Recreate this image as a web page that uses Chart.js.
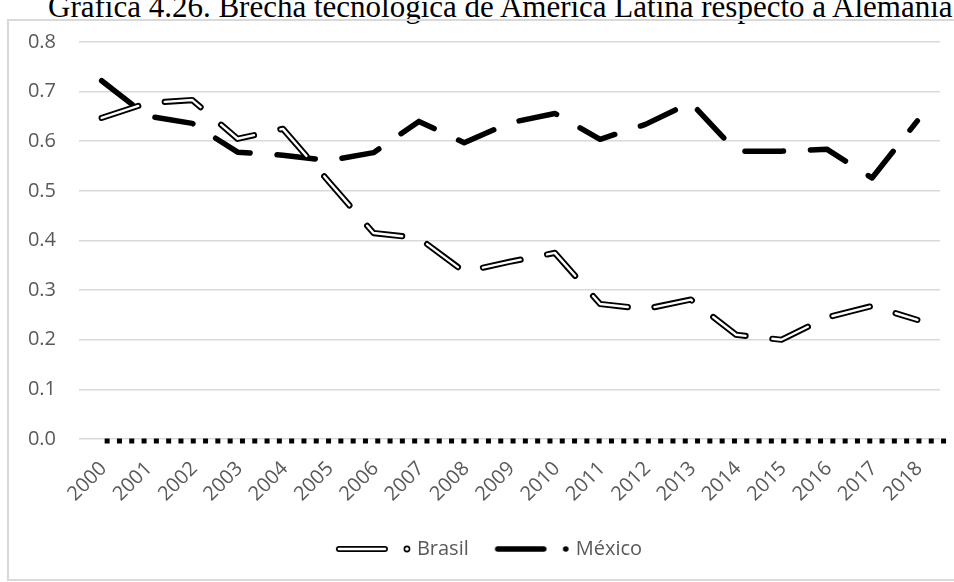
<!DOCTYPE html>
<html>
<head>
<meta charset="utf-8">
<script src="https://cdn.jsdelivr.net/npm/chart.js@4.4.1/dist/chart.umd.min.js"></script>
<style>
  html, body { margin: 0; padding: 0; background: #fff; width: 954px; height: 582px; overflow: hidden; }
  #title {
    position: absolute; left: 48px; top: -9px;
    font-family: "Liberation Serif", "Times New Roman", serif;
    font-size: 31px; line-height: 1; color: #000; white-space: nowrap;
  }
  #frame {
    position: absolute; left: 7px; top: 19px; width: 1000px; height: 562px;
    border: 2px solid #d9d9d9; box-sizing: border-box;
  }
  #wrap { position: absolute; left: 0; top: 0; width: 954px; height: 582px; }
</style>
</head>
<body>
<div id="title">Gráfica 4.26. Brecha tecnológica de América Latina respecto a Alemania</div>
<div id="frame"></div>
<div id="wrap"><canvas id="chart" width="954" height="582"></canvas></div>
<script>
// Years on the horizontal axis
const years = ['2000', '2001', '2002', '2003', '2004', '2005', '2006', '2007', '2008', '2009',
               '2010', '2011', '2012', '2013', '2014', '2015', '2016', '2017', '2018'];

// Technology gap relative to Germany (Germany = 0)
const brasil = [0.647, 0.677, 0.683, 0.605, 0.625, 0.520, 0.415, 0.405, 0.337, 0.357,
                0.375, 0.272, 0.262, 0.281, 0.210, 0.200, 0.245, 0.268, 0.240];
const mexico = [0.722, 0.651, 0.636, 0.578, 0.572, 0.561, 0.577, 0.640, 0.597, 0.637,
                0.656, 0.604, 0.634, 0.678, 0.580, 0.580, 0.584, 0.526, 0.641];
const alemania = [0, 0, 0, 0, 0, 0, 0, 0, 0, 0, 0, 0, 0, 0, 0, 0, 0, 0, 0];

// Y axis tick values
const yTicks = [0, 0.1, 0.2, 0.3, 0.4, 0.5, 0.6, 0.7, 0.8];

const FONT = '"Open Sans", "Noto Sans", sans-serif';
const TEXT = '#595959';
const DASH = [38.5, 27];

// Legend swatches: line sample followed by a small marker
function swatch(kind) {
  const c = document.createElement('canvas');
  c.width = 80; c.height = 14;
  const g = c.getContext('2d');
  g.lineCap = 'round';
  g.beginPath(); g.moveTo(7, 7); g.lineTo(53, 7);
  if (kind === 'double') {
    g.strokeStyle = '#000'; g.lineWidth = 6; g.stroke();
    g.strokeStyle = '#fff'; g.lineWidth = 2.5; g.stroke();
    g.beginPath(); g.arc(75, 7, 2.6, 0, Math.PI * 2);
    g.fillStyle = '#fff'; g.fill();
    g.strokeStyle = '#000'; g.lineWidth = 1.6; g.stroke();
  } else {
    g.strokeStyle = '#000'; g.lineWidth = 5.5; g.stroke();
    g.beginPath(); g.arc(75, 7, 2.8, 0, Math.PI * 2);
    g.fillStyle = '#000'; g.fill();
  }
  return c;
}
const brasilSwatch = swatch('double');
const mexicoSwatch = swatch('solid');

// Dotted baseline for the zero (Germany) series, carried to the right edge
const zeroLine = {
  id: 'zeroLine',
  beforeDatasetsDraw(chart) {
    const meta = chart.getDatasetMeta(3);
    if (!meta.data.length) return;
    const p0 = meta.data[0];
    const ctx = chart.ctx;
    ctx.save();
    ctx.strokeStyle = '#000';
    ctx.lineWidth = 5;
    ctx.lineCap = 'butt';
    ctx.setLineDash([5, 7.3]);
    ctx.beginPath();
    ctx.moveTo(p0.x + 3, p0.y + 2);
    ctx.lineTo(chart.width - 2, p0.y + 2);
    ctx.stroke();
    ctx.restore();
  }
};

// Centre the legend row under the plot area rather than the full canvas
const legendShift = {
  id: 'legendShift',
  afterLayout(chart) {
    if (chart.legend) chart.legend.left = 39;
  }
};

new Chart(document.getElementById('chart'), {
  type: 'line',
  data: {
    labels: years,
    datasets: [
      { // white core of the Brasil double line
        label: 'Brasil', data: brasil, order: 0,
        borderColor: '#fff', borderWidth: 2.4, borderDash: DASH,
        borderCapStyle: 'round', borderJoinStyle: 'round',
        pointRadius: 0, fill: false, tension: 0
      },
      { // black outline of the Brasil double line
        label: 'Brasil', data: brasil, order: 1,
        borderColor: '#000', borderWidth: 6.2, borderDash: DASH,
        borderCapStyle: 'round', borderJoinStyle: 'round',
        pointRadius: 0, fill: false, tension: 0
      },
      {
        label: 'México', data: mexico, order: 2,
        borderColor: '#000', borderWidth: 5.5, borderDash: DASH,
        borderCapStyle: 'round', borderJoinStyle: 'round',
        pointRadius: 0, fill: false, tension: 0
      },
      {
        label: 'Alemania', data: alemania, order: 3,
        showLine: false, pointRadius: 0, borderColor: '#000'
      }
    ]
  },
  options: {
    responsive: false,
    animation: false,
    layout: { padding: { left: 0, right: 14, top: 42, bottom: 13 } },
    plugins: {
      tooltip: { enabled: false },
      title: { display: false },
      legend: {
        display: true,
        position: 'bottom',
        labels: {
          usePointStyle: true,
          pointStyleWidth: 70,
          padding: 27,
          color: TEXT,
          font: { family: FONT, size: 20 },
          generateLabels: () => [
            { text: 'Brasil', pointStyle: brasilSwatch, fontColor: TEXT, lineWidth: 0,
              strokeStyle: 'rgba(0,0,0,0)', fillStyle: 'rgba(0,0,0,0)', hidden: false, datasetIndex: 1 },
            { text: 'México', pointStyle: mexicoSwatch, fontColor: TEXT, lineWidth: 0,
              strokeStyle: 'rgba(0,0,0,0)', fillStyle: 'rgba(0,0,0,0)', hidden: false, datasetIndex: 2 }
          ]
        }
      }
    },
    scales: {
      x: {
        type: 'category',
        offset: true,
        grid: { display: false, drawTicks: false },
        border: { display: false },
        ticks: {
          autoSkip: false, minRotation: 45, maxRotation: 45,
          padding: 18, labelOffset: 2,
          color: TEXT, font: { family: FONT, size: 20 }
        },
        afterFit(scale) { scale.height = 73; }
      },
      y: {
        min: 0, max: 0.8,
        afterBuildTicks(scale) { scale.ticks = yTicks.map(v => ({ value: v })); },
        grid: { color: '#d9d9d9', lineWidth: 1.6, drawTicks: false },
        border: { display: false },
        ticks: {
          padding: 23, color: TEXT, font: { family: FONT, size: 20 },
          callback: v => Number(v).toFixed(1)
        },
        afterFit(scale) { scale.width = 79; }
      }
    }
  },
  plugins: [zeroLine, legendShift]
});
</script>
</body>
</html>
